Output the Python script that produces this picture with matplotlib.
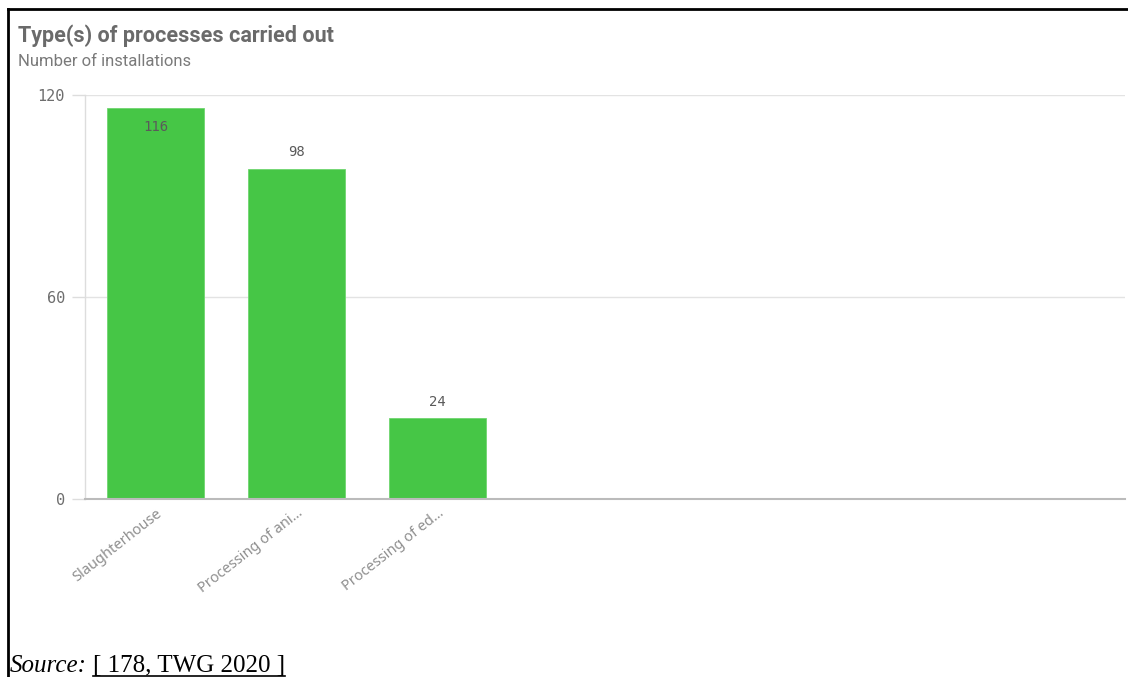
import matplotlib
matplotlib.use("Agg")
import matplotlib.pyplot as plt
from matplotlib.lines import Line2D

categories = ["Slaughterhouse", "Processing of ani...", "Processing of ed..."]
values = [116, 98, 24]
yticks = [0, 60, 120]
title = "Type(s) of processes carried out"
subtitle = "Number of installations"

W, H = 1128, 677
fig = plt.figure(figsize=(W / 100, H / 100), dpi=100)

# axes placement in pixels
x0, x1 = 85, 1125
y_bot, y_top = 499, 95
ax = fig.add_axes([x0 / W, 1 - y_bot / H, (x1 - x0) / W, (y_bot - y_top) / H])

band = 141.0
nbands = (x1 - x0) / band
positions = list(range(len(categories)))
bar_color = "#46c646"
ax.bar(positions, values, width=0.695, color=bar_color, edgecolor="#6fd66f", linewidth=0.6, zorder=2)
ax.set_xlim(-0.5, nbands - 0.5)
ax.set_ylim(0, 120)

mono = "DejaVu Sans Mono"
for p, v in zip(positions, values):
    if v > 110:
        ax.annotate(str(v), (p, v), xytext=(0, -13), textcoords="offset points",
                    ha="center", va="center", fontsize=10, family=mono, color="#5a5a5a")
    else:
        ax.annotate(str(v), (p, v), xytext=(0, 12), textcoords="offset points",
                    ha="center", va="center", fontsize=10, family=mono, color="#5a5a5a")

ax.set_yticks(yticks)
ax.set_yticklabels([str(t) for t in yticks], family=mono, fontsize=11, color="#6e6e6e")
ax.tick_params(axis="y", length=9.5, width=1, color="#dddddd", pad=5)
for t in yticks[1:]:
    ax.axhline(t, color="#e3e3e3", linewidth=1, zorder=0)

ax.set_xticks(positions)
ax.set_xticklabels(categories, rotation=38, ha="right", rotation_mode="anchor",
                   fontsize=10.5, color="#8f8f8f", family="Noto Sans")
ax.tick_params(axis="x", length=0, pad=5)

for s in ["top", "right"]:
    ax.spines[s].set_visible(False)
ax.spines["left"].set_color("#dddddd")
ax.spines["left"].set_linewidth(1)
ax.spines["bottom"].set_color("#bbbbbb")
ax.spines["bottom"].set_linewidth(1.5)

# title and subtitle
fig.text(18 / W, 1 - 36 / H, title, fontsize=15.5, fontweight="bold", color="#6a6a6a",
         family="Roboto", va="center", ha="left")
fig.text(18 / W, 1 - 62 / H, subtitle, fontsize=12, color="#7a7a7a",
         family="Roboto", va="center", ha="left")

# source
base_y = 1 - 672 / H
t1 = fig.text(10 / W, base_y, "Source:", fontsize=18, style="italic",
              family="Liberation Serif", color="black", va="baseline", ha="left")
fig.canvas.draw()
r = fig.canvas.get_renderer()
bb = t1.get_window_extent(r)
t2 = fig.text((bb.x1 + 6) / W, base_y, "[ 178, TWG 2020 ]", fontsize=18,
              family="Liberation Serif", color="black", va="baseline", ha="left")
fig.canvas.draw()
bb2 = t2.get_window_extent(r)
uy = (H - 675.5) / H
fig.add_artist(Line2D([bb2.x0 / W, bb2.x1 / W], [uy, uy], color="black", linewidth=1.2,
                      transform=fig.transFigure))

# frame lines (top and left)
fig.add_artist(Line2D([8 / W, 1], [1 - 9 / H, 1 - 9 / H], color="black", linewidth=2,
                      transform=fig.transFigure))
fig.add_artist(Line2D([8 / W, 8 / W], [0, 1 - 9 / H], color="black", linewidth=2,
                      transform=fig.transFigure))

fig.savefig("out.png", dpi=100, facecolor="white")
